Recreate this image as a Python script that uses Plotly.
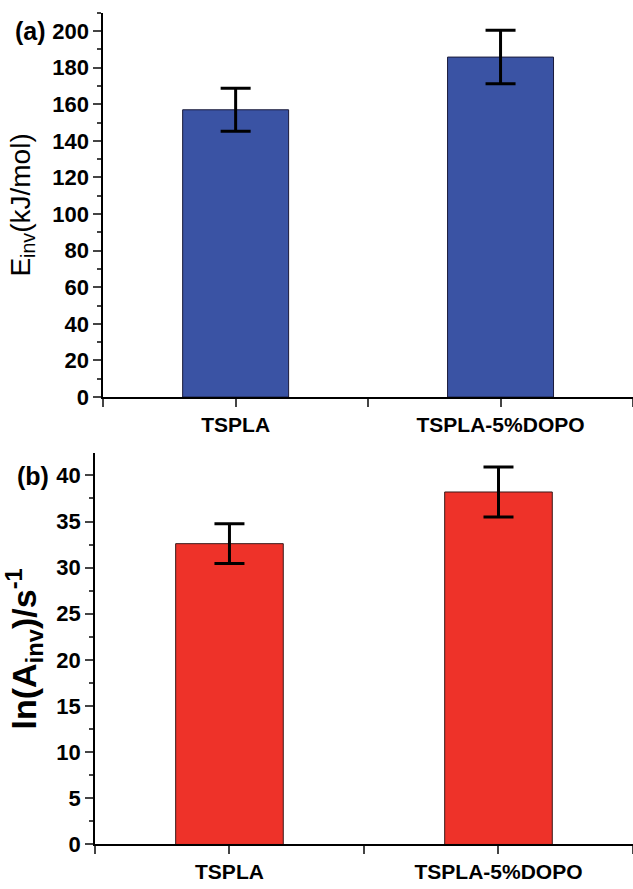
import plotly.graph_objects as go

categories = ["TSPLA", "TSPLA-5%DOPO"]
e_inv = [157.0, 185.8]
e_inv_err = [11.8, 14.6]
ln_a_inv = [32.6, 38.2]
ln_a_inv_err = [2.15, 2.7]

x_idx = list(range(len(categories)))
FONT = "Liberation Sans, Arial, sans-serif"

fig = go.Figure()
fig.add_trace(go.Bar(
    x=x_idx, y=e_inv, width=0.4, xaxis="x", yaxis="y",
    marker=dict(color="#3a53a4", line=dict(color="#1a1a3a", width=1)),
    error_y=dict(type="data", array=e_inv_err, visible=True, color="black", thickness=3, width=15),
    showlegend=False,
))
fig.add_trace(go.Bar(
    x=x_idx, y=ln_a_inv, width=0.4, xaxis="x2", yaxis="y2",
    marker=dict(color="#ee3229", line=dict(color="#3a1a1a", width=1)),
    error_y=dict(type="data", array=ln_a_inv_err, visible=True, color="black", thickness=3, width=15),
    showlegend=False,
))

tickfont = dict(family=FONT, size=22, color="black", weight="bold")
common_x = dict(
    range=[-0.5, 1.5], tickmode="array", tickvals=x_idx, ticktext=categories,
    ticks="outside", ticklen=8, tickwidth=1.5, showline=True, linecolor="black", linewidth=1.5,
    showgrid=False, zeroline=False, tickfont=dict(family=FONT, size=21, color="black", weight="bold"),
    minor=dict(ticks="outside", ticklen=8, tickwidth=1.5, dtick=0.5, tick0=0, showgrid=False),
)
common_y = dict(
    ticks="outside", ticklen=8, tickwidth=1.5, showline=True, linecolor="black", linewidth=1.5,
    showgrid=False, zeroline=False, tickfont=tickfont,
)

fig.update_layout(
    width=633, height=889, margin=dict(l=0, r=0, t=0, b=0),
    plot_bgcolor="white", paper_bgcolor="white",
    xaxis=dict(domain=[0.163, 1.0], anchor="y", **common_x),
    yaxis=dict(domain=[0.5467, 0.9854], anchor="x", range=[0, 210], dtick=20,
               minor=dict(ticks="outside", ticklen=4, tickwidth=1.5, dtick=10, showgrid=False),
               title=dict(text="E<sub>inv</sub>(kJ/mol)", font=dict(family=FONT, size=28, color="black"), standoff=14),
               **common_y),
    xaxis2=dict(domain=[0.150, 1.0], anchor="y2", **common_x),
    yaxis2=dict(domain=[0.0360, 0.4826], anchor="x2", range=[0, 42.4], dtick=5,
                minor=dict(ticks="outside", ticklen=4, tickwidth=1.5, dtick=2.5, showgrid=False),
                title=dict(text="ln(A<sub>inv</sub>)/s<sup>-1</sup>", font=dict(family=FONT, size=34, color="black", weight="bold"), standoff=14),
                **common_y),
    annotations=[
        dict(text="(a)", x=0.0, y=1 - 31 / 889, xref="paper", yref="paper", xanchor="left", yanchor="middle",
             xshift=13, showarrow=False, font=dict(family=FONT, size=25, color="black", weight="bold")),
        dict(text="(b)", x=0.0, y=1 - 483 / 889, xref="paper", yref="paper", xanchor="left", yanchor="middle",
             xshift=15, showarrow=False, font=dict(family=FONT, size=25, color="black", weight="bold")),
    ],
)

fig.write_html(
    "out.html",
    config={"displayModeBar": False},
    post_script="document.body.style.margin='0';document.body.style.overflow='hidden';",
)
